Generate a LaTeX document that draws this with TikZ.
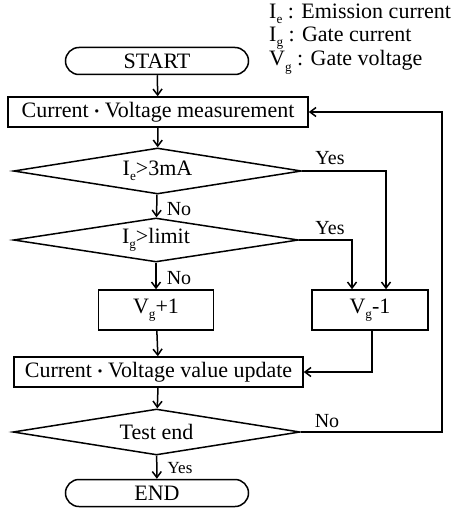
\documentclass[tikz,border=0pt]{standalone}
\usepackage{fontspec}
\setmainfont{Liberation Serif}
\newfontfamily\cjk{Noto Sans CJK JP}
\usetikzlibrary{shapes.geometric,shapes.misc,arrows.meta,calc}
\newcommand{\lowidx}[1]{\raisebox{-0.55ex}{\scalebox{0.6}{#1}}}
\newcommand{\mdot}{{\cjk\fontsize{16}{16}\selectfont ・}}
\tikzset{
  base/.style={draw,line width=1.5pt,inner sep=0pt,font=\fontsize{22}{24}\selectfont},
  term/.style={base,rounded rectangle,minimum width=183pt,minimum height=27pt},
  proc/.style={base,rectangle,minimum height=30pt},
  dec/.style={base,diamond,aspect=6.2,minimum width=288pt,minimum height=46pt},
  conn/.style={line width=1.5pt,-{Straight Barb[length=6pt,width=9pt,line width=1.5pt]}},
  lab/.style={font=\fontsize{20}{22}\selectfont,inner sep=0pt},
  slab/.style={font=\fontsize{17}{19}\selectfont,inner sep=0pt},
  leg/.style={font=\fontsize{22}{24}\selectfont,inner sep=0pt,anchor=west}
}
\begin{document}
\begin{tikzpicture}[x=1pt,y=-1pt]
\useasboundingbox (0,0) rectangle (462,508);
% legend
\node[leg] (l1) at (269,14) {I\lowidx{e} : Emission current};
\node[leg] (l2) at (269,38) {I\lowidx{g} : Gate current};
\node[leg] (l3) at (269,62.5) {V\lowidx{g} : Gate voltage};
% nodes
\node[term] (start) at (157,61) {START};
\node[proc,minimum width=300pt] (meas) at (158,112) {Current\mdot Voltage measurement};
\node[dec] (d1) at (157.5,171) {I\lowidx{e}>3mA};
\node[dec,minimum width=285pt,minimum height=44pt] (d2) at (156,240) {I\lowidx{g}>limit};
\node[proc,minimum width=115pt,minimum height=40pt] (vp) at (156,310) {V\lowidx{g}+1};
\node[proc,minimum width=116pt,minimum height=40pt] (vm) at (370,310) {V\lowidx{g}-1};
\node[proc,minimum width=289pt] (upd) at (158.5,372) {Current\mdot Voltage value update};
\node[dec,minimum width=287pt] (d3) at (156.5,432) {Test end};
\node[term] (end) at (157,493) {END};
\coordinate (loop) at (442,270);
% connectors
\draw[conn] (start) -- (meas);
\draw[conn] (meas) -- (d1);
\draw[conn] (d1) -- (d2);
\draw[conn] (d2) -- (vp);
\draw[conn] (vp) -- (upd);
\draw[conn] (upd) -- (d3);
\draw[conn] (d3) -- (end);
\draw[conn] (d1.east) -| ($(vm.north)+(16,0)$);
\draw[conn] (d2.east) -| ($(vm.north)+(-18,0)$);
\draw[conn] ($(vm.south)+(2,0)$) |- (upd.east);
\draw[conn] (d3.east) -| (loop) |- (meas.east);
% labels
\node[lab] (no1) at (179,209) {No};
\node[lab] (no2) at (179,278) {No};
\node[lab] (yes1) at (330,158) {Yes};
\node[lab] (yes2) at (330,228) {Yes};
\node[lab] (no3) at (327,421) {No};
\node[slab] (yes3) at (180,468) {Yes};
\end{tikzpicture}
\end{document}
